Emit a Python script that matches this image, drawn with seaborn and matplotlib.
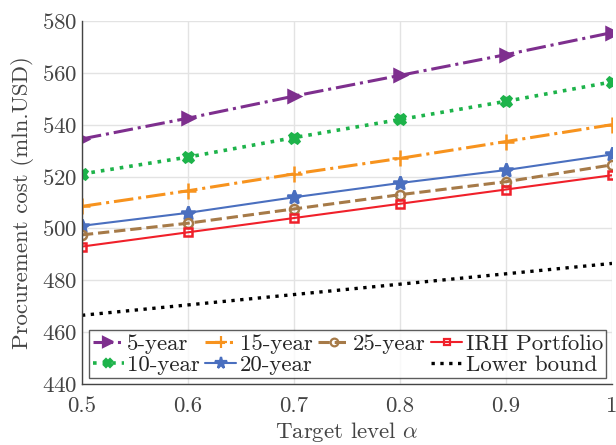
import matplotlib
matplotlib.use("Agg")
import matplotlib.pyplot as plt
import seaborn as sns
import numpy as np
from matplotlib.lines import Line2D

alpha = [0.5, 0.6, 0.7, 0.8, 0.9, 1.0]
cost_5y = [534.5, 542.5, 551.0, 559.0, 567.0, 575.5]
cost_10y = [521.0, 527.5, 535.0, 542.0, 549.0, 556.5]
cost_15y = [508.5, 514.5, 521.0, 527.0, 533.5, 540.0]
cost_20y = [501.0, 506.0, 512.0, 517.5, 522.5, 528.5]
cost_25y = [497.5, 502.0, 507.5, 513.0, 518.0, 524.5]
cost_irh = [493.0, 498.5, 504.0, 509.5, 515.0, 520.5]
lower_bound = [466.5, 470.5, 474.5, 478.5, 482.5, 486.5]

sns.set_style("white")
plt.rcParams["font.family"] = "serif"
plt.rcParams["font.serif"] = ["cmr10"]
plt.rcParams["mathtext.fontset"] = "cm"
plt.rcParams["axes.unicode_minus"] = False
plt.rcParams["axes.formatter.use_mathtext"] = True

fig = plt.figure(figsize=(6.16, 4.45), dpi=100)
ax = fig.add_axes([0.133, 0.137, 0.8605, 0.816])

series = [
    ("5-year", cost_5y, "#7e2f8e", "-.", ">", 2.2, 8.5, True),
    ("10-year", cost_10y, "#1db34a", ":", "X", 2.6, 7.5, True),
    ("15-year", cost_15y, "#f7931e", "-.", "+", 2.2, 11, True),
    ("20-year", cost_20y, "#4a6fbf", "-", "*", 1.5, 10, True),
    ("25-year", cost_25y, "#a67a48", "--", "o", 2.2, 6.5, False),
    ("IRH Portfolio", cost_irh, "#f0202a", "-", "s", 1.5, 5.5, False),
    ("Lower bound", lower_bound, "black", ":", None, 2.4, 0, True),
]

handles = {}
for name, vals, col, ls, mk, lw, ms, filled in series:
    sns.lineplot(x=alpha, y=vals, ax=ax, color=col, linestyle=ls, marker=mk,
                 linewidth=lw, markersize=ms,
                 markerfacecolor=col if filled else "none",
                 markeredgecolor=col, markeredgewidth=1.8)
    handles[name] = Line2D([], [], color=col, linestyle=ls, marker=mk,
                           linewidth=lw, markersize=ms * 0.85,
                           markerfacecolor=col if filled else "none",
                           markeredgecolor=col, markeredgewidth=1.6)

blank = Line2D([], [], linestyle="none")
order = ["5-year", "10-year", "15-year", "20-year", "25-year", None,
         "IRH Portfolio", "Lower bound"]
hs = [handles[n] if n else blank for n in order]
ls_ = [n if n else "" for n in order]
leg = ax.legend(hs, ls_, ncol=4, loc="lower right", fontsize=16.5,
                frameon=True, fancybox=False, edgecolor="#333333",
                handlelength=1.35, handletextpad=0.15, columnspacing=0.25,
                labelspacing=0.05, borderpad=0.15, borderaxespad=0.25)
leg.get_frame().set_linewidth(1.0)

ax.set_xlim(0.5, 1.0)
ax.set_ylim(440, 580)
ax.set_xticks(alpha)
ax.set_xticklabels(["0.5", "0.6", "0.7", "0.8", "0.9", "1"])
ax.set_yticks(np.arange(440, 581, 20))
ax.grid(True, color="#e3e3e3", linewidth=1.0)
ax.set_axisbelow(True)
for s in ["top", "right"]:
    ax.spines[s].set_visible(False)
for s in ["left", "bottom"]:
    ax.spines[s].set_color("#444444")
    ax.spines[s].set_linewidth(1.0)
ax.tick_params(axis="both", labelsize=16.5, colors="#444444", direction="in",
               length=4, width=1.0)
ax.tick_params(axis="x", pad=9)
ax.tick_params(axis="y", pad=3)
ax.set_xlabel(r"Target level $\alpha$", fontsize=16.5, color="#444444", labelpad=3)
ax.set_ylabel("Procurement cost (mln.USD)", fontsize=16.5, color="#444444", labelpad=6)

fig.savefig("out.png", dpi=100)
